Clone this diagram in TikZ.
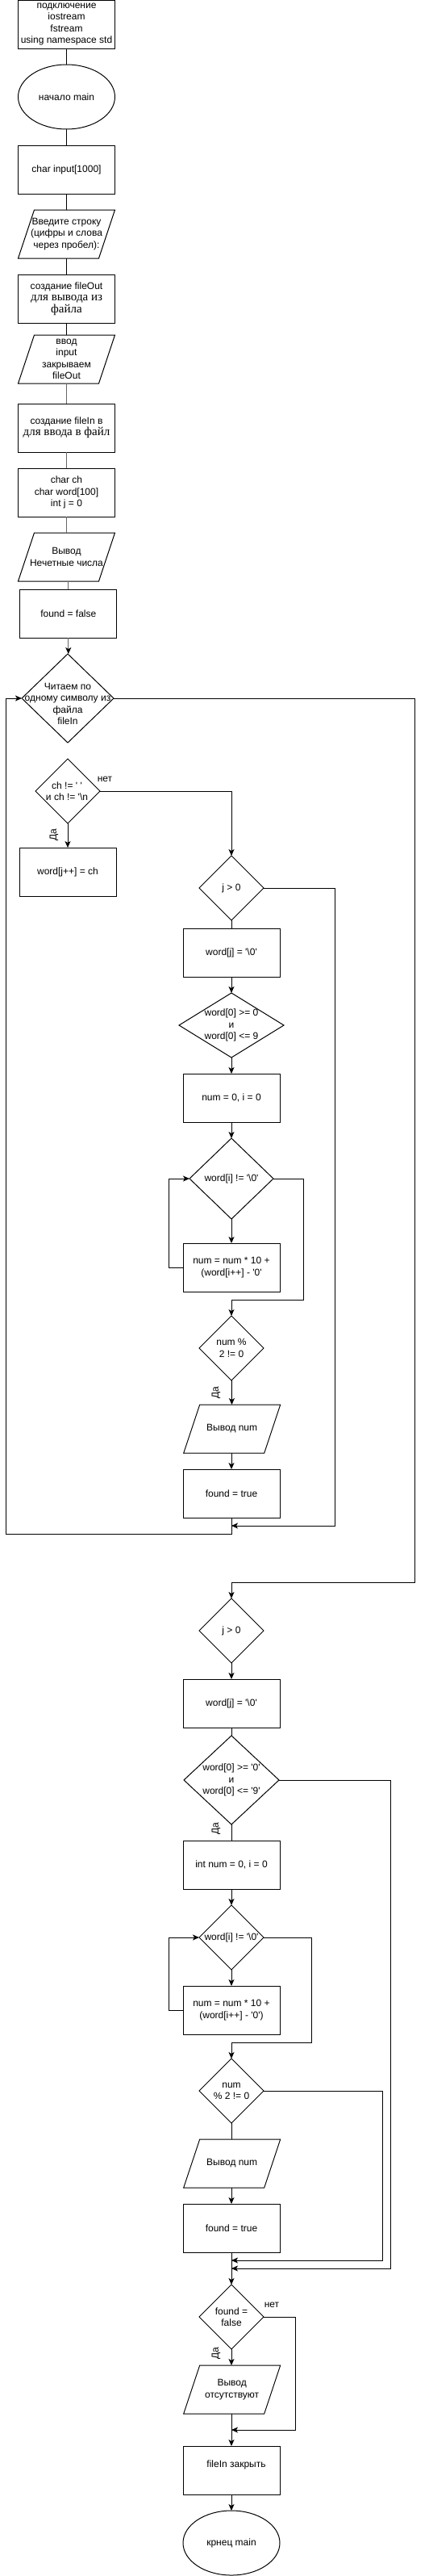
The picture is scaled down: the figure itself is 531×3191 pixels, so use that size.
\documentclass[tikz,border=0pt]{standalone}
\usepackage{fontspec}
\setmainfont{Liberation Sans}
\newfontfamily\serifcyr{Liberation Serif}
\usetikzlibrary{shapes.geometric,arrows.meta}
\newcommand\sq{\textquotesingle}
\newcommand\bsl{\textbackslash}
\newcommand\drawpar[1]{\draw[ln] ([xshift=20pt]#1.north west) -- (#1.north east) -- ([xshift=-20pt]#1.south east) -- (#1.south west) -- cycle;}
\begin{document}
\begin{tikzpicture}[x=1pt,y=-1pt,
  every node/.style={font=\fontsize{12}{14.4}\selectfont, align=center, inner sep=0pt, outer sep=0pt},
  box/.style={draw, line width=1pt, minimum width=120pt, minimum height=60pt},
  ell/.style={draw, ellipse, line width=1pt, minimum width=120pt, minimum height=80pt},
  par/.style={minimum width=120pt, minimum height=60pt},
  dia/.style={draw, diamond, line width=1pt},
  ln/.style={line width=1pt},
  gln/.style={line width=1pt, draw=black!60},
  ar/.style={line width=1pt, -{Stealth[length=8pt,width=7pt,inset=2pt,color=black]}},
  gar/.style={ar, draw=black!60},
  lbl/.style={font=\fontsize{12}{14.4}\selectfont},
]
\useasboundingbox (0,0) rectangle (531,3191);

% ---- upper sequence
\node[box] (n1) at (82.5,30) {подключение\\iostream\\fstream\\using namespace std};
\node[ell] (n2) at (82.5,120) {начало main};
\node[box] (n3) at (82.5,210) {char input[1000]};
\node[par] (n4) at (82.5,290) {Введите строку\\(цифры и слова\\через пробел):};
\drawpar{n4}
\node[box] (n5) at (82.5,370) {создание fileOut\\{\serifcyr\fontsize{15}{18}\selectfont для вывода из}\\{\serifcyr\fontsize{15}{18}\selectfont файла}};
\node[par] (n6) at (82.5,445) {ввод\\input\\закрываем\\fileOut};
\drawpar{n6}
\node[box] (n7) at (82.5,530) {создание fileIn в\\{\serifcyr\fontsize{15}{18}\selectfont для ввода в файл}};
\node[box] (n8) at (82.5,610) {char ch\\char word[100]\\int j = 0};
\node[par] (n9) at (82.5,690) {Вывод\\Нечетные числа};
\drawpar{n9}
\node[box] (n10) at (84.8,760) {found = false};

% ---- read loop
\node[dia, minimum width=114pt, minimum height=110pt] (n11) at (84,865) {};
\node (t11) at (84,872) {Читаем по\\одному символу из\\файла\\ fileIn};
\node[dia, minimum width=80pt, minimum height=80pt] (n12) at (84,980) {};
\node (t12) at (83,980) {ch != \sq\ \sq\\и ch != \sq\bsl n};
\node[box] (n13) at (84,1080) {word[j++] = ch};
\node[dia, minimum width=80pt, minimum height=80pt] (n14) at (287,1100) {};
\node (t14) at (287,1100) {j > 0};
\node[box] (n15) at (287,1180) {word[j] = \sq\bsl 0\sq};
\node[dia, minimum width=130pt, minimum height=80pt] (n16) at (287,1270) {};
\node (t16) at (287,1270) {word[0] >= 0\\и\\word[0] <= 9};
\node[box] (n17) at (287,1360) {num = 0, i = 0};
\node[dia, minimum width=104pt, minimum height=100pt] (n18) at (287,1460) {};
\node (t18) at (287,1460) {word[i] != \sq\bsl 0\sq};
\node[box] (n19) at (287,1570) {num = num * 10 +\\(word[i++] - \sq 0\sq};
\node[dia, minimum width=80pt, minimum height=80pt] (n20) at (287,1670) {};
\node (t20) at (287,1670) {num \%\\2 != 0};
\node[par] (n21) at (287.7,1770) {Вывод num};
\drawpar{n21}
\node[box] (n22) at (287,1850) {found = true};

% ---- after loop
\node[dia, minimum width=80pt, minimum height=80pt] (n23) at (287,2020) {};
\node (t23) at (287,2020) {j > 0};
\node[box] (n24) at (287,2110) {word[j] = \sq\bsl 0\sq};
\node[dia, minimum width=118pt, minimum height=110pt] (n25) at (287,2205) {};
\node (t25) at (287,2205) {word[0] >= \sq 0\sq\\и\\word[0] <= \sq 9\sq};
\node[box] (n26) at (287,2310) {int num = 0, i = 0};
\node[dia, minimum width=80pt, minimum height=80pt] (n27) at (287,2400) {};
\node (t27) at (287,2400) {word[i] != \sq\bsl 0\sq};
\node[box] (n28) at (287,2490) {num = num * 10 +\\(word[i++] - \sq 0\sq)};
\node[dia, minimum width=80pt, minimum height=80pt] (n29) at (287,2590) {};
\node (t29) at (287,2590) {num\\\% 2 != 0};
\node[par] (n30) at (287.7,2680) {Вывод num};
\drawpar{n30}
\node[box] (n31) at (287,2760) {found = true};
\node[dia, minimum width=80pt, minimum height=80pt] (n32) at (287,2870) {};
\node (t32) at (287,2870) {found =\\false};
\node[par] (n33) at (287.7,2960) {Вывод\\отсутствуют};
\drawpar{n33}
\node[box] (n34) at (287,3060) {};
\node (t34) at (293,3053) {fileIn закрыть};
\node[ell] (n35) at (287,3150) {крнец main};

% ---- labels
\node[lbl] (no1) at (130,965) {нет};
\node[lbl] (no2) at (337,2855) {нет};
\node[lbl, rotate=90] (da1) at (67,1034) {Да};
\node[lbl, rotate=90] (da2) at (268,1725) {Да};
\node[lbl, rotate=90] (da3) at (268,2265) {Да};
\node[lbl, rotate=90] (da4) at (268,2915) {Да};

% ---- bend coordinates
\coordinate (c1) at (7.3,1900);
\coordinate (r1) at (415.7,1890);
\coordinate (m1) at (287,1890);
\coordinate (r2) at (514,1960);
\coordinate (l1) at (209,1570);
\coordinate (r3) at (376.7,1610);
\coordinate (l2) at (209,2490);
\coordinate (r4) at (386,2530);
\coordinate (r5) at (484.3,2810);
\coordinate (m2) at (287,2810);
\coordinate (r6) at (474.3,2800);
\coordinate (m3) at (287,2800);
\coordinate (r7) at (366.7,3010);
\coordinate (m4) at (287,3010);

% ---- connectors (upper)
\draw[ln] (n1) -- (n2);
\draw[ln] (n2) -- (n3);
\draw[ln] (n3) -- (n4);
\draw[ln] (n4) -- (n5);
\draw[ln] (n5) -- (n6);
\draw[gln] (n6.south) -- (n7.north);
\draw[gln] (n7) -- (n8);
\draw[gln] (n8) -- (n9);
\draw[gln] (n9.south -| n10) -- (n10.north);
\draw[gar] (n10.south) -- (n10.south |- n11.north);

% ---- read loop connectors
\draw[ar] (n12.east) -| (n14.north);
\draw[ar] (n12.south) -- (n12.south |- n13.north);
\draw[ln] (n14) -- (n15);
\draw[ar] (n14.east) -| (r1) -- (m1);
\draw[ar] (n15) -- (n16);
\draw[ar] (n16) -- (n17);
\draw[ar] (n17) -- (n18);
\draw[ar] (n18) -- (n19);
\draw[ar] (n19.west) -- (l1) |- (n18.west);
\draw[ar] (n18.east) -| (r3) -| (n20.north);
\draw[ar] (n20) -- (n21);
\draw[ar] (n21.south -| n22) -- (n22.north);
\draw[ar] (n22.south) |- (c1) |- (n11.west);
\draw[ar] (n11.east) -| (r2) -| (n23.north);

% ---- after loop connectors
\draw[ar] (n23) -- (n24);
\draw[ln] (n24) -- (n25);
\draw[ln] (n25) -- (n26);
\draw[ar] (n25.east) -| (r5) -- (m2);
\draw[ar] (n26) -- (n27);
\draw[ar] (n27) -- (n28);
\draw[ar] (n28.west) -- (l2) |- (n27.west);
\draw[ar] (n27.east) -| (r4) -| (n29.north);
\draw[ln] (n29.south) -- (n29.south |- n30.north);
\draw[ar] (n30.south -| n31) -- (n31.north);
\draw[ar] (n29.east) -| (r6) -- (m3);
\draw[ar] (n31) -- (n32);
\draw[ar] (n32.east) -| (r7) -- (m4);
\draw[ar] (n32.south) -- (n32.south |- n33.north);
\draw[ar] (n33.south -| n34) -- (n34.north);
\draw[ar] (n34) -- (n35);
\end{tikzpicture}
\end{document}
